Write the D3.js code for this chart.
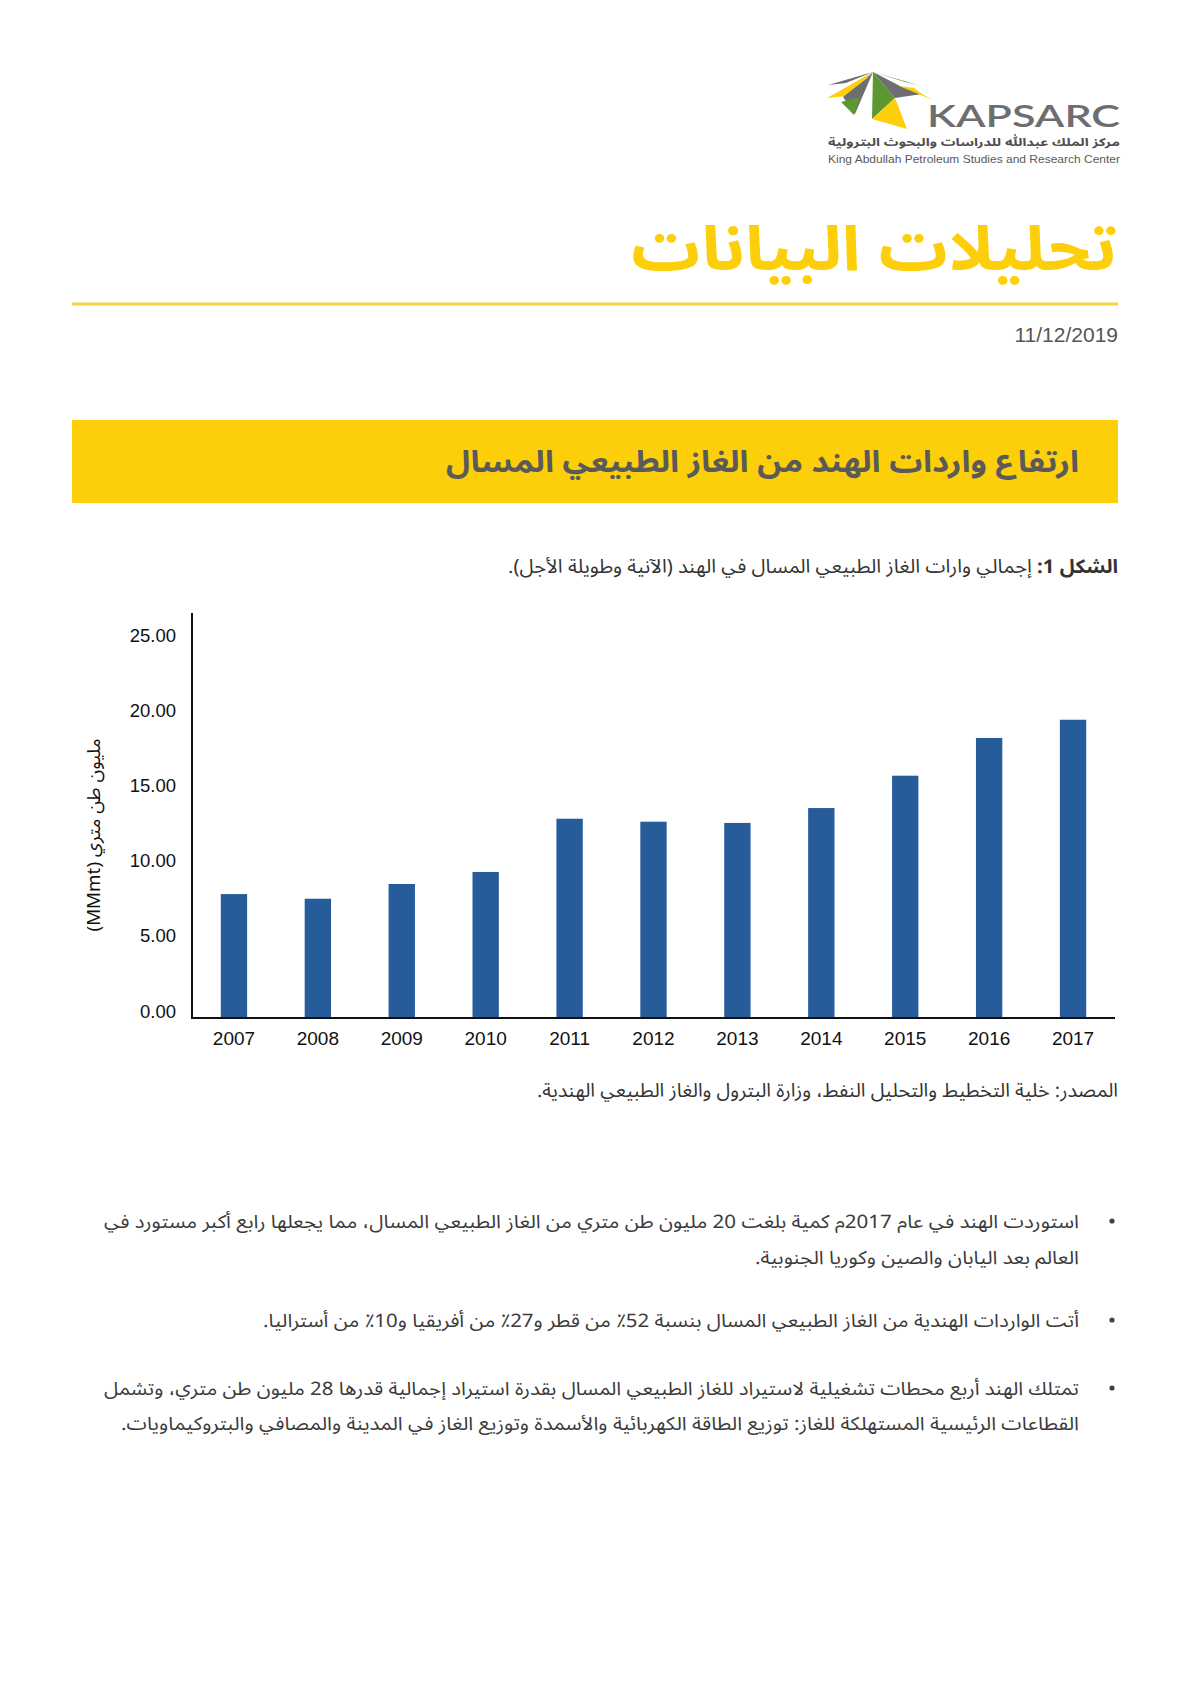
<!DOCTYPE html>
<html>
<head>
<meta charset="utf-8">
<script src="https://cdn.jsdelivr.net/npm/d3@7"></script>
<style>
  html, body { margin: 0; padding: 0; background: #fff; }
  svg { display: block; }
</style>
</head>
<body>
<div id="page"></div>
<script>
// ---------------- data ----------------
const years = ["2007","2008","2009","2010","2011","2012","2013","2014","2015","2016","2017"];
const lngImports = [8.24, 7.93, 8.91, 9.71, 13.25, 13.05, 12.97, 13.96, 16.11, 18.62, 19.83];
const yTicks = [0, 5, 10, 15, 20, 25];

const pageTitle = "تحليلات البيانات";
const pageDate = "11/12/2019";
const boxTitle = "ارتفاع واردات الهند من الغاز الطبيعي المسال";
const captionBold = "الشكل 1:";
const captionRest = " إجمالي وارات الغاز الطبيعي المسال في الهند (الآنية وطويلة الأجل).";
const yAxisTitle = "مليون طن متري (MMmt)";
const sourceText = "المصدر: خلية التخطيط والتحليل النفط، وزارة البترول والغاز الطبيعي الهندية.";
const bulletLines = [
  ["استوردت الهند في عام 2017م كمية بلغت 20 مليون طن متري من الغاز الطبيعي المسال، مما يجعلها رابع أكبر مستورد في",
   "العالم بعد اليابان والصين وكوريا الجنوبية."],
  ["أتت الواردات الهندية من الغاز الطبيعي المسال بنسبة 52٪ من قطر و27٪ من أفريقيا و10٪ من أستراليا."],
  ["تمتلك الهند أربع محطات تشغيلية لاستيراد للغاز الطبيعي المسال بقدرة استيراد إجمالية قدرها 28 مليون طن متري، وتشمل",
   "القطاعات الرئيسية المستهلكة للغاز: توزيع الطاقة الكهربائية والأسمدة وتوزيع الغاز في المدينة والمصافي والبتروكيماويات."]
];
const logoWord = "KAPSARC";
const logoArabic = "مركز الملك عبدالله للدراسات والبحوث البترولية";
const logoEnglish = "King Abdullah Petroleum Studies and Research Center";

// ---------------- page ----------------
const W = 1191, H = 1684;
const AR = "'Noto Sans Arabic UI', 'Noto Sans Arabic', 'Noto Kufi Arabic', 'DejaVu Sans', sans-serif";
const LAT = "'Liberation Sans', Arial, Helvetica, sans-serif";
const YELLOW = "#FCCF0A";

const svg = d3.select("#page").append("svg").attr("width", W).attr("height", H);

// right-anchored RTL text; font is shrunk a little if the natural width is too wide,
// then the remaining difference is taken up by textLength.
function rtext(g, x, y, str, o) {
  const t = g.append("text")
    .attr("x", x).attr("y", y)
    .attr("direction", "rtl")
    .attr("text-anchor", "start")
    .attr("font-family", o.family || AR)
    .attr("font-size", o.size)
    .attr("font-weight", o.weight || "normal")
    .attr("fill", o.fill || "#333");
  if (str !== null) t.text(str);
  if (o.build) o.build(t);
  if (o.len) {
    const nat = t.node().getComputedTextLength();
    if (nat > o.len * 1.02) {
      t.attr("font-size", o.size * Math.sqrt(o.len / nat));
    }
    t.attr("textLength", o.len).attr("lengthAdjust", "spacingAndGlyphs");
  }
  return t;
}

// ---------------- logo ----------------
const logo = svg.append("g");
const logoPolys = [
  {c: "#6d6e71", p: [[873,72],[828,85],[846,83]]},
  {c: YELLOW,   p: [[873,72],[827,98],[846,96],[866,79]]},
  {c: "#6d6e71", p: [[873,72],[866,79],[843,97],[855,114]]},
  {c: "#5d9732", p: [[841,102],[854,115],[860,97]]},
  {c: "#5d9732", p: [[873,72],[872,119],[895,98]]},
  {c: YELLOW,   p: [[872,119],[895,98],[907,129]]},
  {c: "#6d6e71", p: [[873,72],[895,98],[922,94],[900,86]]},
  {c: "#5d9732", p: [[873,72],[918,85],[905,82]]},
  {c: YELLOW,   p: [[899,86],[933,100],[922,94],[914,88]]}
];
logo.selectAll("polygon").data(logoPolys).join("polygon")
  .attr("points", d => d.p.map(q => q.join(",")).join(" "))
  .attr("fill", d => d.c);
logo.append("text").attr("x", 927).attr("y", 127)
  .attr("font-family", "Lato, 'Open Sans', sans-serif").attr("font-size", 31).attr("font-weight", 600)
  .attr("fill", "#6d6e71").attr("textLength", 193).attr("lengthAdjust", "spacingAndGlyphs")
  .text(logoWord);
rtext(logo, 1120, 146, logoArabic, {size: 11, weight: "bold", fill: "#4d4d4f", len: 292});
logo.append("text").attr("x", 828).attr("y", 163)
  .attr("font-family", LAT).attr("font-size", 10.5).attr("fill", "#58595b")
  .attr("textLength", 292).attr("lengthAdjust", "spacingAndGlyphs")
  .text(logoEnglish);

// ---------------- header ----------------
rtext(svg, 1117, 270, pageTitle, {size: 62, weight: "bold", fill: YELLOW, len: 486});
svg.append("line").attr("x1", 72).attr("x2", 1118).attr("y1", 304).attr("y2", 304)
  .attr("stroke", "#F8D43F").attr("stroke-width", 3);
svg.append("text").attr("x", 1118).attr("y", 342).attr("text-anchor", "end")
  .attr("font-family", LAT).attr("font-size", 21).attr("fill", "#555")
  .text(pageDate);

svg.append("rect").attr("x", 72).attr("y", 420).attr("width", 1046).attr("height", 83).attr("fill", YELLOW);
rtext(svg, 1079, 472, boxTitle, {size: 30, weight: "bold", fill: "#5a5a5a", len: 633});

rtext(svg, 1118, 573, null, {size: 19, fill: "#333", len: 610, build: t => {
  t.append("tspan").attr("font-weight", "bold").text(captionBold);
  t.append("tspan").text(captionRest);
}});

// ---------------- chart ----------------
const y0 = 1018, y25 = 642, axisTop = 613;
const x = d3.scaleBand().domain(years).range([192, 1115]).paddingInner(0.686).paddingOuter(0.343);
const y = d3.scaleLinear().domain([0, 25]).range([y0, y25]);

const chart = svg.append("g");
chart.selectAll("rect.bar").data(years.map((yr, i) => ({yr, v: lngImports[i]})))
  .join("rect").attr("class", "bar")
  .attr("x", d => x(d.yr)).attr("width", x.bandwidth())
  .attr("y", d => y(d.v)).attr("height", d => y0 - y(d.v))
  .attr("fill", "#275C9B");

// y axis
const yAxis = d3.axisLeft(y).tickValues(yTicks).tickFormat(d3.format(".2f")).tickSize(0).tickPadding(16);
const gy = chart.append("g").attr("transform", "translate(192,0)").call(yAxis);
gy.select(".domain").remove();
gy.selectAll("text").attr("font-family", LAT).attr("font-size", 18.5).attr("fill", "#111").attr("dy", "-0.05em");
chart.append("line").attr("x1", 192).attr("x2", 192).attr("y1", axisTop).attr("y2", y0 + 1)
  .attr("stroke", "#111").attr("stroke-width", 2);

// x axis
const xAxis = d3.axisBottom(x).tickSize(0).tickPadding(14);
const gx = chart.append("g").attr("transform", `translate(0,${y0})`).call(xAxis);
gx.select(".domain").remove();
gx.selectAll("text").attr("font-family", LAT).attr("font-size", 19).attr("fill", "#111").attr("dy", "0.71em");
chart.append("line").attr("x1", 191).attr("x2", 1115).attr("y1", y0).attr("y2", y0)
  .attr("stroke", "#111").attr("stroke-width", 2);

// y axis title (rotated)
chart.append("text")
  .attr("transform", "translate(100,835) rotate(-90)")
  .attr("direction", "rtl").attr("text-anchor", "middle")
  .attr("font-family", AR).attr("font-size", 18).attr("fill", "#111")
  .attr("textLength", 193).attr("lengthAdjust", "spacingAndGlyphs")
  .text(yAxisTitle);

rtext(svg, 1118, 1097, sourceText, {size: 19, fill: "#333", len: 581});

// ---------------- bullets ----------------
const bulletY = [[1228, 1264], [1327], [1395, 1430]];
const lineLen = [[975, 324], [816], [975, 958]];
bulletLines.forEach((lines, i) => {
  svg.append("circle").attr("cx", 1112).attr("cy", bulletY[i][0] - 7).attr("r", 2.6).attr("fill", "#444");
  lines.forEach((ln, j) => {
    rtext(svg, 1079, bulletY[i][j], ln, {size: 18.5, fill: "#3a3a3a", len: lineLen[i][j]});
  });
});
</script>
</body>
</html>
